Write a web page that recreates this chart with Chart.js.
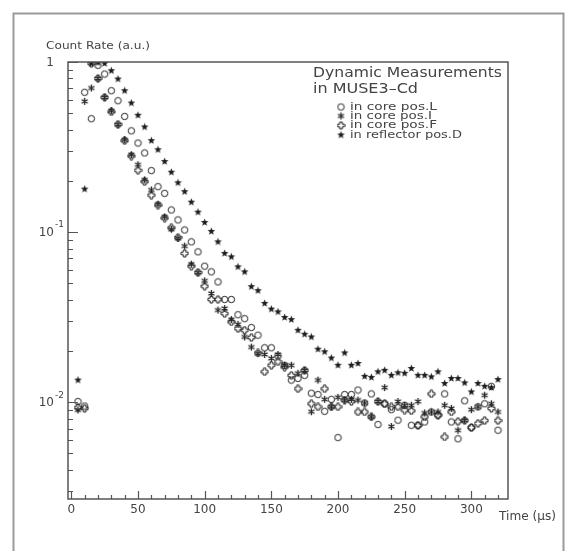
<!DOCTYPE html>
<html lang="en">
<head>
<meta charset="UTF-8">
<title>Dynamic Measurements in MUSE3-Cd</title>
<script src="https://cdn.jsdelivr.net/npm/chart.js"></script>
<style>
  * { margin: 0; padding: 0; box-sizing: border-box; }
  body { background: #fff; }
</style>
</head>
<body>
<canvas id="decayChart" width="565" height="551"></canvas>
<script>
// time bins in microseconds
const timeUs = [];
for (let t = 5; t <= 320; t += 5) timeUs.push(t);

// count rates (a.u.)
const coreL = [
  0.0101, 0.664, 0.464, 0.956, 0.85, 0.678, 0.592, 0.479,
  0.394, 0.334, 0.292, 0.23, 0.185, 0.169, 0.135, 0.118,
  0.103, 0.0877, 0.0766, 0.0631, 0.0584, 0.051, 0.0402, 0.0402,
  0.0327, 0.031, 0.0275, 0.0248, 0.0209, 0.0209, 0.0187, 0.0165,
  0.0135, 0.0138, 0.0144, 0.0113, 0.0111, 0.00885, 0.0104, 0.0062,
  0.0111, 0.0111, 0.0118, 0.0099, 0.0112, 0.0074, 0.0098, 0.00905,
  0.00784, 0.0096, 0.00732, 0.00732, 0.00766, 0.00877, 0.0084, 0.0112,
  0.00766, 0.0061, 0.0102, 0.0071, 0.0094, 0.0098, 0.0124, 0.00685
];
const coreI = [
  0.009, 0.587, 0.703, 0.798, 0.62, 0.517, 0.428, 0.349,
  0.285, 0.249, 0.203, 0.177, 0.146, 0.123, 0.104, 0.0918,
  0.0828, 0.0648, 0.0577, 0.0517, 0.0436, 0.0348, 0.0356, 0.0306,
  0.0287, 0.0242, 0.0211, 0.0193, 0.0191, 0.0181, 0.0191, 0.0165,
  0.0165, 0.0148, 0.0154, 0.0088, 0.0135, 0.0104, 0.0094, 0.0107,
  0.0103, 0.0104, 0.0103, 0.0099, 0.0082, 0.0101, 0.0122, 0.0072,
  0.0101, 0.0096, 0.0096, 0.0101, 0.00865, 0.00877, 0.00877, 0.0096,
  0.0092, 0.00685, 0.00784, 0.00905, 0.0094, 0.011, 0.0098, 0.00877
];
const coreF = [
  0.0093, 0.0092, 0.98, 0.8, 0.62, 0.51, 0.43, 0.345,
  0.28, 0.231, 0.198, 0.165, 0.144, 0.121, 0.106, 0.093,
  0.075, 0.0631, 0.058, 0.0481, 0.0402, 0.0402, 0.0332, 0.0297,
  0.0271, 0.0265, 0.024, 0.0195, 0.0151, 0.0165, 0.0173, 0.0161,
  0.0144, 0.012, 0.0154, 0.0098, 0.0094, 0.012, 0.0094, 0.0094,
  0.0103, 0.0101, 0.00877, 0.00877, 0.0082, 0.0101, 0.0098, 0.0094,
  0.0094, 0.009, 0.0089, 0.0073, 0.0082, 0.0112, 0.0084, 0.00625,
  0.00877, 0.0077, 0.0078, 0.0071, 0.0075, 0.0078, 0.0092, 0.0078
];
const reflectorD = [
  0.0135, 0.179, 0.98, 0.99, 0.98, 0.889, 0.794, 0.678,
  0.574, 0.486, 0.415, 0.345, 0.305, 0.260, 0.225, 0.195,
  0.173, 0.150, 0.131, 0.114, 0.101, 0.0877, 0.075, 0.0716,
  0.0625, 0.0584, 0.0478, 0.0453, 0.0381, 0.0353, 0.034, 0.0315,
  0.0306, 0.0265, 0.0251, 0.0242, 0.0205, 0.0198, 0.0182, 0.0165,
  0.0195, 0.0165, 0.0169, 0.0142, 0.014, 0.0151, 0.0154, 0.0144,
  0.0149, 0.0148, 0.0158, 0.0144, 0.0144, 0.0141, 0.0151, 0.0129,
  0.0138, 0.0138, 0.013, 0.0115, 0.0129, 0.0124, 0.0122, 0.0136
];
// one stray circle near the background level
const strayLTime = [10];
const strayL = [0.0095];

const seriesNames = ['in core pos.L', 'in core pos.I', 'in core pos.F', 'in reflector pos.D'];
const xTicks = [0, 50, 100, 150, 200, 250, 300];
const yDecades = [1, 0.1, 0.01];
const yDecadeLabels = [['1', ''], ['10', '-1'], ['10', '-2']];

const INK = '#1e1e1e';
const AXIS = '#555';
const TEXT = '#444';
const FONT = '"DejaVu Sans", sans-serif';

function marker(size, draw) {
    const c = document.createElement('canvas');
    c.width = size; c.height = size;
    const g = c.getContext('2d');
    draw(g, size / 2);
    return c;
}

const starMark = marker(9, (g, c) => {
    g.fillStyle = INK;
    g.beginPath();
    for (let i = 0; i < 10; i++) {
        const r = i % 2 === 0 ? 4 : 1.7;
        const a = -Math.PI / 2 + i * Math.PI / 5;
        g.lineTo(c + r * Math.cos(a), c + r * Math.sin(a));
    }
    g.closePath();
    g.fill();
});

const asteriskMark = marker(9, (g, c) => {
    g.strokeStyle = INK;
    g.lineWidth = 1.3;
    g.beginPath();
    for (let i = 0; i < 3; i++) {
        const a = Math.PI / 2 + i * Math.PI / 3;
        g.moveTo(c - 3.5 * Math.cos(a), c - 3.5 * Math.sin(a));
        g.lineTo(c + 3.5 * Math.cos(a), c + 3.5 * Math.sin(a));
    }
    g.stroke();
});

const openCrossMark = marker(9, (g, c) => {
    g.strokeStyle = INK;
    g.lineWidth = 1;
    const a = 1.3, b = 3.5;
    g.beginPath();
    g.moveTo(c - a, c - b); g.lineTo(c + a, c - b); g.lineTo(c + a, c - a);
    g.lineTo(c + b, c - a); g.lineTo(c + b, c + a); g.lineTo(c + a, c + a);
    g.lineTo(c + a, c + b); g.lineTo(c - a, c + b); g.lineTo(c - a, c + a);
    g.lineTo(c - b, c + a); g.lineTo(c - b, c - a); g.lineTo(c - a, c - a);
    g.closePath();
    g.stroke();
});

const circleMark = marker(9, (g, c) => {
    g.strokeStyle = INK;
    g.lineWidth = 1;
    g.beginPath();
    g.arc(c, c, 3.2, 0, Math.PI * 2);
    g.stroke();
});

function points(times, values) {
    return times.map((t, i) => ({ x: t, y: values[i] }));
}

// draw text stretched horizontally to a given width (the original font is wider)
function wideText(ctx, text, x, y, width) {
    const w = ctx.measureText(text).width;
    ctx.save();
    ctx.translate(x, y);
    ctx.scale(width / w, 1);
    ctx.fillText(text, 0, 0);
    ctx.restore();
}

const frame = {
    id: 'frame',
    afterDraw(chart) {
        const ctx = chart.ctx;
        const area = chart.chartArea;
        const xs = chart.scales.x;
        const ys = chart.scales.y;
        ctx.save();

        // outer canvas border
        ctx.strokeStyle = '#9a9a9a';
        ctx.lineWidth = 2;
        ctx.beginPath();
        ctx.moveTo(13.5, 560); ctx.lineTo(13.5, 13.5); ctx.lineTo(563.5, 13.5); ctx.lineTo(563.5, 560);
        ctx.stroke();

        // plot frame
        ctx.strokeStyle = AXIS;
        ctx.lineWidth = 1.5;
        ctx.strokeRect(area.left, area.top, area.right - area.left, area.bottom - area.top);

        // x ticks
        ctx.lineWidth = 1.2;
        ctx.beginPath();
        for (let t = 0; t <= 320; t += 10) {
            const px = Math.round(xs.getPixelForValue(t)) + 0.5;
            const len = t % 50 === 0 ? 8 : 4;
            ctx.moveTo(px, area.bottom);
            ctx.lineTo(px, area.bottom - len);
        }
        // y ticks
        for (let d = -3; d <= 0; d++) {
            for (let m = 1; m <= 9; m++) {
                const v = m * Math.pow(10, d);
                if (v < ys.min || v > ys.max * 1.0001) continue;
                const py = Math.round(ys.getPixelForValue(v)) + 0.5;
                const len = m === 1 ? 10 : 5;
                ctx.moveTo(area.left, py);
                ctx.lineTo(area.left + len, py);
            }
        }
        ctx.stroke();

        ctx.fillStyle = TEXT;
        ctx.textBaseline = 'middle';

        // x tick labels
        ctx.font = '12px ' + FONT;
        ctx.textAlign = 'center';
        xTicks.forEach(t => ctx.fillText(String(t), xs.getPixelForValue(t), 510));

        // y tick labels
        yDecades.forEach((v, i) => {
            const py = ys.getPixelForValue(v);
            const [base, sup] = yDecadeLabels[i];
            ctx.font = '12px ' + FONT;
            ctx.textAlign = 'right';
            ctx.fillText(base, 54, py + 1);
            if (sup) {
                ctx.font = '9px ' + FONT;
                ctx.textAlign = 'left';
                ctx.fillText(sup, 55, py - 7);
            }
        });

        // axis titles
        ctx.textAlign = 'left';
        ctx.font = '11px ' + FONT;
        wideText(ctx, 'Count Rate (a.u.)', 46, 46, 104);
        ctx.font = '12px ' + FONT;
        wideText(ctx, 'Time (\u00b5s)', 499, 517, 57);

        // legend
        ctx.font = '14px ' + FONT;
        wideText(ctx, 'Dynamic Measurements', 313, 73, 189);
        wideText(ctx, 'in MUSE3\u2013Cd', 313, 89, 105);
        const marks = [circleMark, asteriskMark, openCrossMark, starMark];
        const rows = [107, 116, 125.5, 135];
        const widths = [87, 82, 87, 112];
        ctx.font = '11px ' + FONT;
        seriesNames.forEach((name, i) => {
            ctx.drawImage(marks[i], 341 - 4.5, rows[i] - 4.5);
            wideText(ctx, name, 350, rows[i], widths[i]);
        });

        ctx.restore();
    }
};

new Chart(document.getElementById('decayChart'), {
    type: 'scatter',
    data: {
        datasets: [
            { label: seriesNames[0], data: points(timeUs, coreL).concat(points(strayLTime, strayL)), pointStyle: circleMark },
            { label: seriesNames[1], data: points(timeUs, coreI), pointStyle: asteriskMark },
            { label: seriesNames[2], data: points(timeUs, coreF), pointStyle: openCrossMark },
            { label: seriesNames[3], data: points(timeUs, reflectorD), pointStyle: starMark }
        ]
    },
    options: {
        responsive: false,
        animation: false,
        layout: { padding: { left: 68, top: 62, right: 57, bottom: 52 } },
        plugins: { legend: { display: false }, tooltip: { enabled: false } },
        scales: {
            x: { type: 'linear', min: -2.5, max: 327.5, display: false },
            y: { type: 'logarithmic', min: 0.0027, max: 1, display: false }
        }
    },
    plugins: [frame]
});
</script>
</body>
</html>
